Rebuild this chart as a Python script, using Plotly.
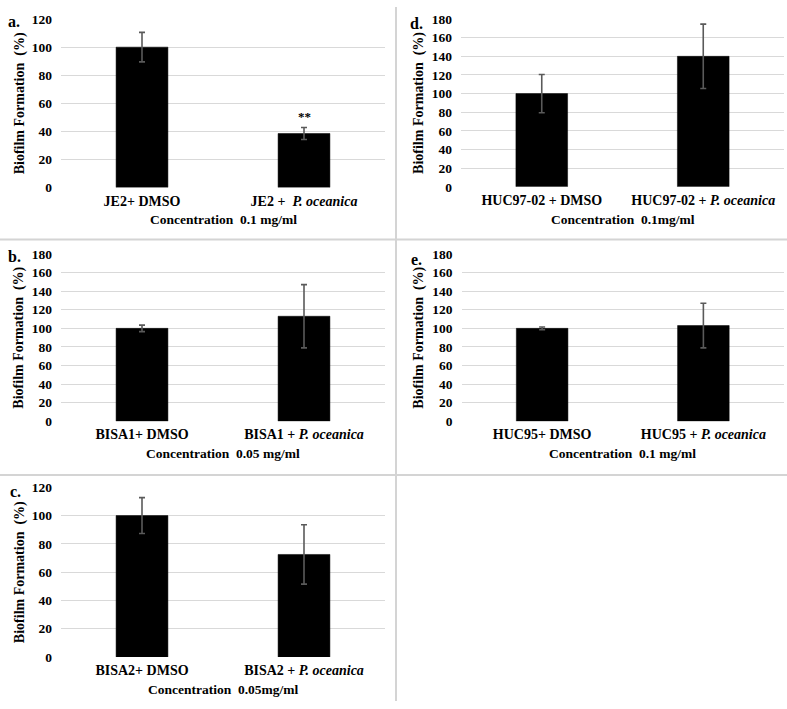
import plotly.graph_objects as go

W, H = 787, 709

# ---- data ----
a_cats = ["JE2+ DMSO", "JE2 +\u00a0 <i>P. oceanica</i>"]
a_vals = [100, 38.5]
a_err = [10.5, 4.3]

b_cats = ["BISA1+ DMSO", "BISA1 + <i>P. oceanica</i>"]
b_vals = [100, 113]
b_err = [3.5, 34]

c_cats = ["BISA2+ DMSO", "BISA2 + <i>P. oceanica</i>"]
c_vals = [100, 72.5]
c_err = [12.7, 21]

d_cats = ["HUC97-02 + DMSO", "HUC97-02 + <i>P. oceanica</i>"]
d_vals = [100, 140]
d_err = [20.5, 34.5]

e_cats = ["HUC95+ DMSO", "HUC95 + <i>P. oceanica</i>"]
e_vals = [100, 103]
e_err = [1.5, 24]

a_ticks = [0, 20, 40, 60, 80, 100, 120]
bde_ticks = [0, 20, 40, 60, 80, 100, 120, 140, 160, 180]

panels = [
    ("a.", a_cats, a_vals, a_err, a_ticks, 120, "Concentration\u00a0 0.1 mg/ml", (61, 385, 12.3, 184.5), 20, (14, 15)),
    ("d.", d_cats, d_vals, d_err, bde_ticks, 180, "Concentration\u00a0 0.1mg/ml", (461, 784, 12.3, 183.7), 419, (416, 17)),
    ("b.", b_cats, b_vals, b_err, bde_ticks, 180, "Concentration\u00a0 0.05 mg/ml", (61, 385, 252.3, 423.3), 19, (14, 255)),
    ("e.", e_cats, e_vals, e_err, bde_ticks, 180, "Concentration\u00a0 0.1 mg/ml", (461.5, 784, 252.3, 423.3), 419, (416, 258)),
    ("c.", c_cats, c_vals, c_err, a_ticks, 120, "Concentration\u00a0 0.05mg/ml", (61, 385, 490.7, 664), 20, (15, 495)),
]

FONT = "Liberation Serif, Times New Roman, serif"
fig = go.Figure()
annotations = []
layout = {}

for i, (lab, cats, vals, err, ticks, ymax, xt, (x0, x1, y0, y1), ytx, (lx, ly)) in enumerate(panels):
    n = "" if i == 0 else str(i + 1)
    xa, ya = "x" + n, "y" + n
    fig.add_trace(go.Bar(
        x=cats, y=vals, xaxis=xa, yaxis=ya,
        marker=dict(color="black", line=dict(color="black", width=0.5)),
        error_y=dict(type="data", array=err, visible=True, color="#5a5a5a", thickness=1.6, width=3),
        showlegend=False, hoverinfo="skip",
    ))
    layout["xaxis" + n] = dict(
        domain=[x0 / W, x1 / W], anchor=ya, type="category", categoryarray=cats,
        tickvals=cats, ticktext=["<b>" + c + "</b>" for c in cats],
        showgrid=False, showline=False, zeroline=False, ticks="", ticklabelstandoff=3,
        tickfont=dict(family=FONT, size=14, color="black"),
    )
    layout["yaxis" + n] = dict(
        domain=[1 - y1 / H, 1 - y0 / H], anchor=xa, range=[0, ymax],
        tickvals=ticks, ticktext=["<b>%d</b>" % t for t in ticks],
        showgrid=True, gridcolor="#d9d9d9", gridwidth=1,
        zeroline=False, showline=False, ticks="", ticklabelstandoff=8,
        tickfont=dict(family=FONT, size=13.5, color="black"),
    )
    annotations.append(dict(
        text="<b>" + xt + "</b>", xref="paper", yref="paper",
        x=(x0 + x1) / 2 / W, y=1 - (y1 + 33) / H, showarrow=False,
        xanchor="center", yanchor="middle",
        font=dict(family=FONT, size=13.5, color="black"),
    ))
    annotations.append(dict(
        text="<b>Biofilm Formation\u00a0 (%)</b>", xref="paper", yref="paper",
        x=ytx / W, y=1 - (y0 + y1) / 2 / H, textangle=-90, showarrow=False,
        xanchor="center", yanchor="middle",
        font=dict(family=FONT, size=14, color="black"),
    ))
    annotations.append(dict(
        text="<b>" + lab + "</b>", xref="paper", yref="paper",
        x=lx / W, y=1 - ly / H, showarrow=False,
        xanchor="center", yanchor="middle",
        font=dict(family=FONT, size=16, color="black"),
    ))

# significance marker
annotations.append(dict(
    text="<b>**</b>", xref="x", yref="y", x=a_cats[1], y=a_vals[1] + a_err[1],
    yanchor="bottom", showarrow=False, yshift=1,
    font=dict(family=FONT, size=13, color="black"),
))

shapes = []
bc = "#d4d4d4"
shapes.append(dict(type="line", xref="paper", yref="paper", x0=396 / W, x1=396 / W, y0=0, y1=1,
                   line=dict(color=bc, width=2)))
for py in (237.5, 478):
    shapes.append(dict(type="line", xref="paper", yref="paper", x0=0, x1=1, y0=1 - py / H, y1=1 - py / H,
                       line=dict(color=bc, width=2)))

fig.update_layout(
    width=W, height=H, margin=dict(l=0, r=0, t=0, b=0),
    paper_bgcolor="white", plot_bgcolor="white",
    bargap=0.68, annotations=annotations, shapes=shapes,
    font=dict(family=FONT, color="black"),
    **layout,
)
fig.write_html("out.html", config={"displayModeBar": False},
               post_script="document.body.style.margin='0';document.body.style.overflow='hidden';")
